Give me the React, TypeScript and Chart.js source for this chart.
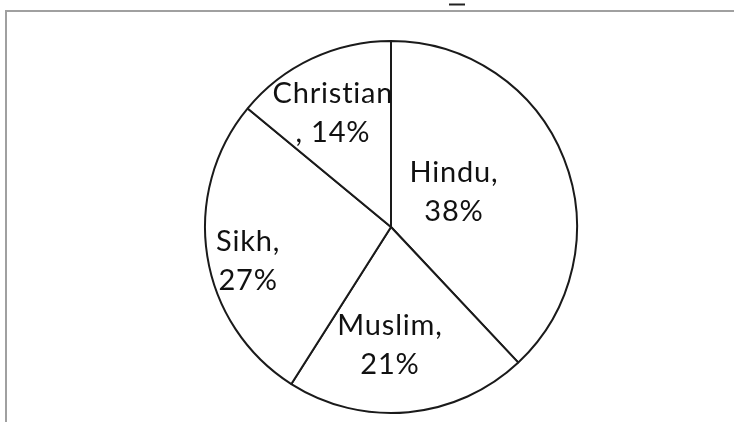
import React, { useEffect, useRef } from "react";
import { Chart, registerables } from "chart.js";

Chart.register(...registerables);

const categories = ["Hindu", "Muslim", "Sikh", "Christian"];
const shares = [38, 21, 27, 14];
// label lines as shown on the chart
const labelLines = [
  ["Hindu,", "38%"],
  ["Muslim,", "21%"],
  ["Sikh,", "27%"],
  ["Christian", ", 14%"],
];

// label placement: polar [angle from top clockwise (deg), fraction of radius]
const LABEL_POLAR: [number, number][] = [
  [61, 0.387],
  [180.5, 0.634],
  [256.6, 0.79],
  [333, 0.688],
];

const FONT = "29px Lato, 'Open Sans', sans-serif";
const LINE_GAP = 39;

const decorPlugin = {
  id: "decor",
  beforeDraw(chart: any) {
    const ctx = chart.ctx;
    ctx.save();
    ctx.fillStyle = "#ffffff";
    ctx.fillRect(0, 0, chart.width, chart.height);
    ctx.restore();
  },
  afterDraw(chart: any) {
    const ctx = chart.ctx;
    ctx.save();
    // frame lines
    ctx.strokeStyle = "#a0a0a0";
    ctx.lineWidth = 2;
    ctx.beginPath();
    ctx.moveTo(5, 11);
    ctx.lineTo(chart.width, 11);
    ctx.moveTo(6, 11);
    ctx.lineTo(6, chart.height);
    ctx.stroke();
    // clipped title fragment
    ctx.strokeStyle = "#222222";
    ctx.beginPath();
    ctx.moveTo(449, 4.5);
    ctx.lineTo(465, 4.5);
    ctx.stroke();

    // labels
    const meta = chart.getDatasetMeta(0);
    ctx.font = FONT;
    try {
      (ctx as any).letterSpacing = "0.8px";
    } catch (e) {}
    ctx.fillStyle = "#111111";
    ctx.textAlign = "center";
    ctx.textBaseline = "middle";
    meta.data.forEach((arc: any, i: number) => {
      const [deg, frac] = LABEL_POLAR[i];
      const a = (deg * Math.PI) / 180;
      const r = arc.outerRadius * frac;
      const cx = arc.x + r * Math.sin(a);
      const cy = arc.y - r * Math.cos(a);
      const lines = labelLines[i];
      lines.forEach((t, j) => {
        const y = cy + (j - (lines.length - 1) / 2) * LINE_GAP;
        ctx.fillText(t, cx, y);
      });
    });
    ctx.restore();
  },
};

export default function App() {
  const ref = useRef<HTMLCanvasElement | null>(null);
  useEffect(() => {
    if (!ref.current) return;
    const chart = new Chart(ref.current, {
      type: "pie",
      data: {
        labels: categories,
        datasets: [
          {
            data: shares,
            backgroundColor: "#ffffff",
            borderColor: "#1a1a1a",
            borderWidth: 2,
          },
        ],
      },
      options: {
        responsive: false,
        animation: false,
        layout: { padding: { top: 40, bottom: 8, left: 48, right: 0 } },
        plugins: {
          legend: { display: false },
          tooltip: { enabled: false },
          title: { display: false },
        },
      },
      plugins: [decorPlugin],
    });
    return () => chart.destroy();
  }, []);
  return (
    <div style={{ position: "fixed", left: 0, top: 0, width: 734, height: 422, background: "#fff" }}>
      <canvas ref={ref} width={734} height={422} />
    </div>
  );
}
